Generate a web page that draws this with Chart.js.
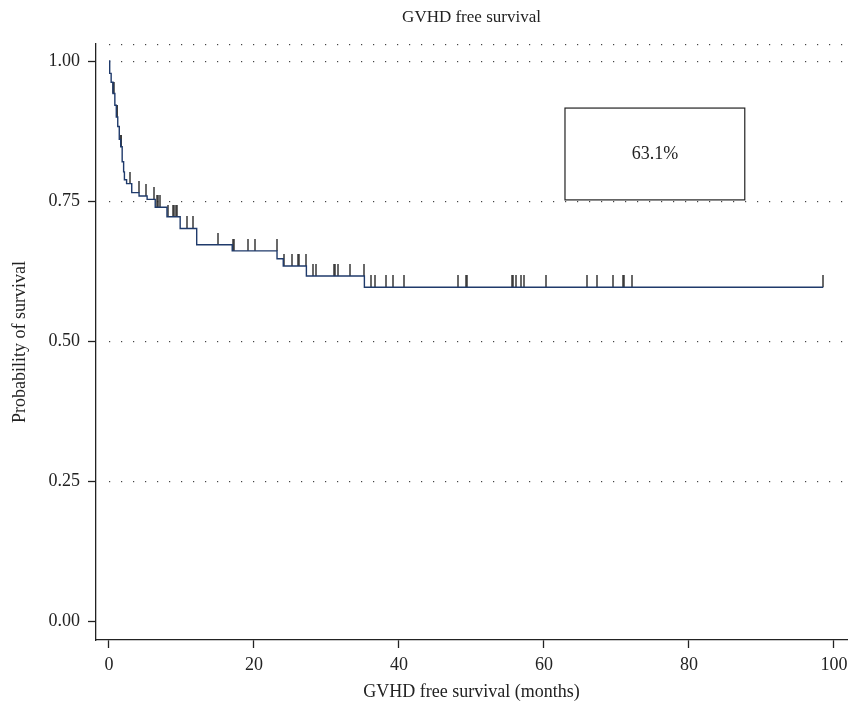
<!DOCTYPE html>
<html>
<head>
<meta charset="utf-8">
<script src="https://cdn.jsdelivr.net/npm/chart.js@4"></script>
<style>
  body { margin: 0; background: #fff; }
  #wrap { width: 854px; height: 716px; }
</style>
</head>
<body>
<div id="wrap"><canvas id="kmChart"></canvas></div>
<script>
// Kaplan-Meier steps: time (months) and survival after each drop
const stepTimes = [0, 0.1, 0.3, 0.56, 0.81, 1.01, 1.21, 1.42, 1.62, 1.82, 2.02, 2.13, 2.43, 3.14, 4.15, 5.26, 6.38, 8.0, 9.82, 12.1, 17.0, 23.18, 24.04, 27.23, 35.23, 98.5];
const stepSurvival = [1.0, 0.978, 0.962, 0.942, 0.921, 0.90, 0.883, 0.86, 0.847, 0.82, 0.802, 0.788, 0.781, 0.765, 0.759, 0.753, 0.739, 0.722, 0.701, 0.672, 0.661, 0.647, 0.634, 0.616, 0.596, 0.596];

// censored observations (months)
const censorTimes = [0.61, 0.66, 1.11, 1.16, 1.62, 1.67, 2.94, 4.1, 5.16, 6.18, 6.68, 6.83, 6.99, 8.1, 8.86, 9.01, 9.21, 9.42,
  10.73, 11.64, 14.98, 17.11, 17.21, 19.24, 20.15, 23.13, 24.2, 25.21, 26.12, 26.27, 27.13, 28.14, 28.55, 30.98, 31.18, 31.59,
  33.31, 35.18, 36.14, 36.65, 38.27, 39.18, 40.7, 48.19, 49.2, 49.35, 55.58, 55.78, 56.14, 56.8, 57.2, 60.24, 65.91, 67.32,
  69.55, 70.97, 71.07, 72.18, 98.5];

const xTicks = [0, 20, 40, 60, 80, 100];
const yTicks = [0, 0.25, 0.5, 0.75, 1.0];
const gridValues = [0.25, 0.5, 0.75, 1.0];

const boxLabel = '63.1%';
const boxX = [62.9, 87.7];
const boxY = [0.752, 0.916];

const serif = '"Liberation Serif", "DejaVu Serif", serif';
const ink = '#222';

function survivalAt(t) {
  let s = stepSurvival[0];
  for (let i = 0; i < stepTimes.length; i++) {
    if (stepTimes[i] <= t) s = stepSurvival[i];
  }
  return s;
}

// censor mark: short vertical tick sitting on top of the curve
const tick = document.createElement('canvas');
tick.width = 2;
tick.height = 24;
const tctx = tick.getContext('2d');
tctx.fillStyle = '#2a2a2a';
tctx.fillRect(0.3, 0, 1.4, 12);

const dottedGrid = {
  id: 'dottedGrid',
  beforeDatasetsDraw(chart) {
    const { ctx, chartArea, scales: { x, y } } = chart;
    ctx.save();
    ctx.fillStyle = '#444';
    const x0 = x.getPixelForValue(0);
    gridValues.concat([y.max]).forEach(v => {
      const py = Math.round(y.getPixelForValue(v));
      for (let px = x0; px <= chartArea.right; px += 12) {
        ctx.fillRect(Math.round(px), py, 1.2, 1.2);
      }
    });
    ctx.restore();
  }
};

const labelBox = {
  id: 'labelBox',
  afterDatasetsDraw(chart) {
    const { ctx, scales: { x, y } } = chart;
    const l = x.getPixelForValue(boxX[0]), r = x.getPixelForValue(boxX[1]);
    const t = y.getPixelForValue(boxY[1]), b = y.getPixelForValue(boxY[0]);
    ctx.save();
    ctx.fillStyle = '#fff';
    ctx.fillRect(l, t, r - l, b - t);
    ctx.strokeStyle = ink;
    ctx.lineWidth = 1.2;
    ctx.strokeRect(l, t, r - l, b - t);
    ctx.fillStyle = ink;
    ctx.font = '18px ' + serif;
    ctx.textAlign = 'center';
    ctx.textBaseline = 'middle';
    ctx.fillText(boxLabel, (l + r) / 2, (t + b) / 2);
    ctx.restore();
  }
};

const ctx = document.getElementById('kmChart').getContext('2d');
new Chart(ctx, {
  type: 'line',
  data: {
    datasets: [{
      label: 'GVHD free survival',
      data: stepTimes.map((t, i) => ({ x: t, y: stepSurvival[i] })),
      stepped: true,
      borderColor: '#1f3a6b',
      borderWidth: 1.4,
      pointRadius: 0,
      fill: false
    }, {
      label: 'Censored',
      data: censorTimes.map(t => ({ x: t, y: survivalAt(t) })),
      showLine: false,
      pointStyle: tick,
      pointRadius: 6
    }]
  },
  options: {
    responsive: true,
    maintainAspectRatio: false,
    animation: false,
    layout: { padding: { left: 0, right: 6, top: 0, bottom: 0 } },
    plugins: {
      legend: { display: false },
      tooltip: { enabled: false },
      title: {
        display: true,
        fullSize: false,
        text: 'GVHD free survival',
        color: ink,
        font: { family: serif, size: 17, weight: 'normal' },
        padding: { top: 7, bottom: 16.6 }
      }
    },
    scales: {
      x: {
        type: 'linear',
        min: -1.79,
        max: 101.8,
        afterBuildTicks: scale => { scale.ticks = xTicks.map(v => ({ value: v })); },
        afterFit: scale => { scale.height = 76; },
        border: { display: true, color: ink, width: 1.3 },
        grid: { display: true, drawOnChartArea: false, drawTicks: true, tickLength: 8, tickColor: ink, tickWidth: 1.3 },
        ticks: { color: ink, padding: 6, font: { family: serif, size: 18 }, maxRotation: 0 },
        title: {
          display: true,
          text: 'GVHD free survival (months)',
          color: ink,
          font: { family: serif, size: 18 },
          padding: { top: 0, bottom: 13 }
        }
      },
      y: {
        type: 'linear',
        min: -0.0339,
        max: 1.0304,
        afterBuildTicks: scale => { scale.ticks = yTicks.map(v => ({ value: v })); },
        afterFit: scale => { scale.width = 96; },
        border: { display: true, color: ink, width: 1.3 },
        grid: { display: true, drawOnChartArea: false, drawTicks: true, tickLength: 8, tickColor: ink, tickWidth: 1.3 },
        ticks: { color: ink, padding: 8, font: { family: serif, size: 18 }, callback: v => v.toFixed(2) },
        title: {
          display: true,
          text: 'Probability of survival',
          color: ink,
          font: { family: serif, size: 18 },
          padding: { top: 9, bottom: 0 }
        }
      }
    }
  },
  plugins: [dottedGrid, labelBox]
});
</script>
</body>
</html>
